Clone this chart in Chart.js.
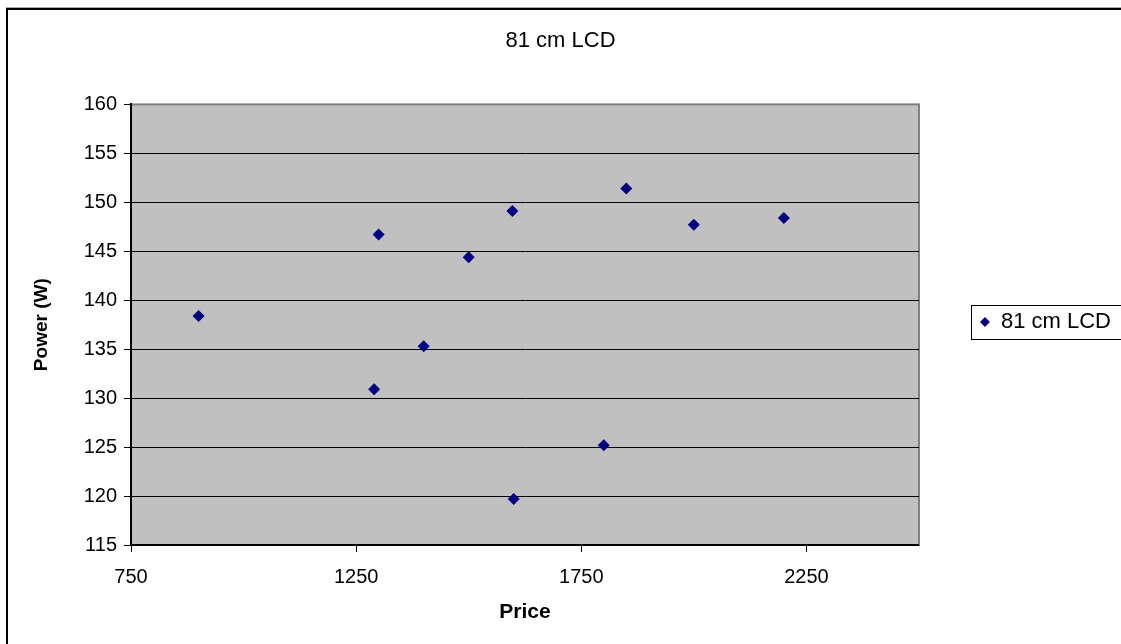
<!DOCTYPE html>
<html>
<head>
<meta charset="utf-8">
<script src="https://cdn.jsdelivr.net/npm/chart.js@4"></script>
<style>
  body { margin: 0; background: #fff; }
  #wrap { position: relative; width: 1121px; height: 644px; overflow: hidden; }
  #frame {
    position: absolute; left: 6px; top: 8px; width: 1200px; height: 700px;
    border-left: 2px solid #000; border-top: 2px solid #000;
    box-shadow: 0 -1px 0 #aaa;
  }
  #chart { position: absolute; left: 0; top: 0; }
</style>
</head>
<body>
<div id="wrap">
  <div id="frame"></div>
  <canvas id="chart" width="1121" height="644"></canvas>
</div>
<script>
// data
const seriesName = "81 cm LCD";
const prices = [900, 1290, 1300, 1400, 1500, 1597, 1600, 1800, 1850, 2000, 2200];
const power = [138.4, 130.9, 146.7, 135.3, 144.4, 149.1, 119.7, 125.2, 151.4, 147.7, 148.4];

const xTicks = [750, 1250, 1750, 2250];
const xMin = 750, xMax = 2500;
const yMin = 115, yMax = 160, yStep = 5;

const FONT = "'Liberation Sans', Arial, sans-serif";

// grey plot area + border, and a box round the legend
const plotBox = {
   id: "plotBox",
   beforeDraw(chart) {
      const { ctx, chartArea: a } = chart;
      ctx.save();
      ctx.fillStyle = "#c0c0c0";
      ctx.fillRect(a.left, a.top, a.right - a.left, a.bottom - a.top);
      ctx.strokeStyle = "#808080";
      ctx.lineWidth = 2;
      ctx.strokeRect(a.left, a.top, a.right - a.left, a.bottom - a.top);
      ctx.restore();
   },
   afterDraw(chart) {
      const lg = chart.legend;
      if (!lg || !lg.legendHitBoxes || !lg.legendHitBoxes.length) return;
      const hb = lg.legendHitBoxes[0];
      const { ctx } = chart;
      ctx.save();
      ctx.strokeStyle = "#000";
      ctx.lineWidth = 1;
      ctx.strokeRect(Math.round(hb.left - 9) + 0.5, Math.round(hb.top - 6) + 0.5, chart.width, hb.height + 12);
      ctx.restore();
   },
};

const ctx = document.getElementById("chart").getContext("2d");

new Chart(ctx, {
   type: "scatter",
   data: {
      datasets: [
         {
            label: seriesName,
            data: prices.map((p, i) => ({ x: p, y: power[i] })),
            pointStyle: "rectRot",
            pointRadius: 6,
            pointHoverRadius: 6,
            backgroundColor: "#000080",
            borderColor: "#000080",
            borderWidth: 0,
         },
      ],
   },
   options: {
      responsive: false,
      animation: false,
      layout: { padding: { left: 0, top: 0, right: 0, bottom: 0 } },
      plugins: {
         title: {
            display: true,
            text: seriesName,
            color: "#000",
            font: { family: FONT, size: 22, weight: "normal" },
            padding: { top: 28, bottom: 50 },
         },
         legend: {
            position: "right",
            labels: {
               color: "#000",
               font: { family: FONT, size: 22 },
               usePointStyle: true,
               boxWidth: 10,
               boxHeight: 7,
               padding: 61,
            },
         },
         tooltip: { enabled: false },
      },
      scales: {
         x: {
            type: "linear",
            min: xMin,
            max: xMax,
            afterBuildTicks: (scale) => {
               scale.ticks = xTicks.map((v) => ({ value: v }));
            },
            afterFit: (scale) => {
               scale.height = 99;
            },
            border: { display: true, color: "#000", width: 2 },
            grid: {
               display: true,
               drawOnChartArea: false,
               tickLength: 7,
               tickColor: "#000",
            },
            ticks: {
               color: "#000",
               font: { family: FONT, size: 20 },
               padding: 13,
               maxRotation: 0,
               callback: (v) => String(v),
            },
            title: {
               display: true,
               text: "Price",
               color: "#000",
               font: { family: FONT, size: 21, weight: "bold" },
               padding: { top: 0, bottom: 19 },
            },
         },
         y: {
            type: "linear",
            min: yMin,
            max: yMax,
            afterFit: (scale) => {
               scale.width = 131;
            },
            border: { display: true, color: "#000", width: 2 },
            grid: {
               color: (c) => (c.tick && c.tick.value === yMax ? "rgba(0,0,0,0)" : "#000"),
               tickColor: "#000",
               tickLength: 7,
               lineWidth: 1,
            },
            ticks: {
               stepSize: yStep,
               color: "#000",
               font: { family: FONT, size: 20 },
               padding: 7,
               callback: (v) => String(v),
            },
            title: {
               display: true,
               text: "Power (W)",
               color: "#000",
               font: { family: FONT, size: 19, weight: "bold" },
               padding: { top: 30, bottom: 0 },
            },
         },
      },
   },
   plugins: [plotBox],
});
</script>
</body>
</html>
